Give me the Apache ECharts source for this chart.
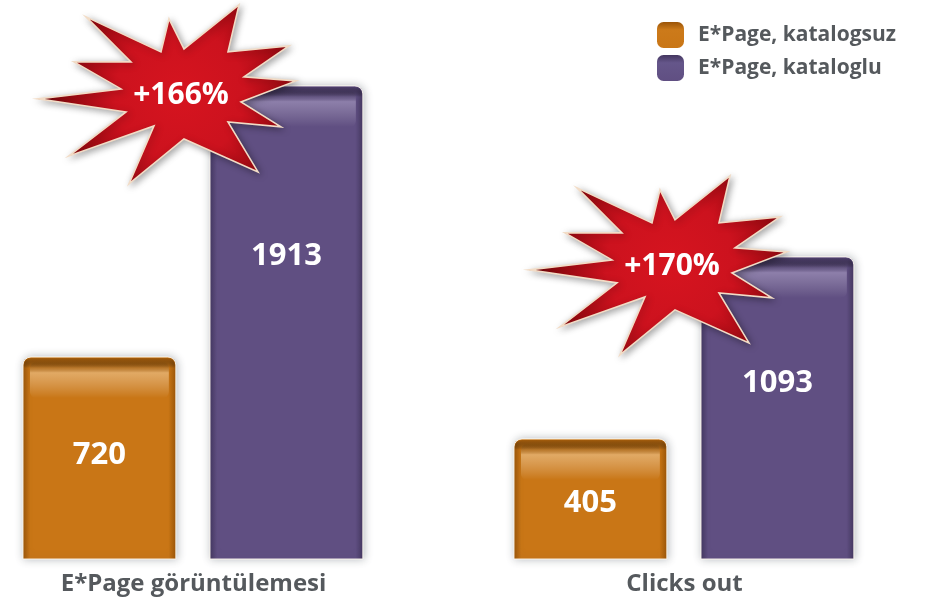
<!DOCTYPE html>
<html>
<head>
<meta charset="utf-8">
<title>E*Page katalog</title>
<script src="https://cdn.jsdelivr.net/npm/echarts@6/dist/echarts.min.js"></script>
<style>
  html, body { margin: 0; padding: 0; background: #ffffff; }
  #chart { width: 931px; height: 600px; }
</style>
</head>
<body>
<div id="chart"></div>
<script>
const categories = ['E*Page görüntülemesi', 'Clicks out'];
const seriesNames = ['E*Page, katalogsuz', 'E*Page, kataloglu'];
const withoutCatalog = [720, 405];
const withCatalog = [1913, 1093];

// each group has its own value scale in the original slide
const axisRanges = [
  { min: -169, max: 2291 },
  { min: -49, max: 2064 },
];

const FONT = '"Open Sans", "DejaVu Sans", sans-serif';
const TEXT_GRAY = '#55595d';

const palettes = [
  { base: '#c97616', edge: '#9a5407', rim: '#a65e0c', shine: 'rgba(255,232,196,0.45)', legend: '#cc7a1a' },
  { base: '#604f82', edge: '#43365f', rim: '#4e3f6d', shine: 'rgba(236,228,255,0.32)', legend: '#65568a' },
];

// starburst outline around its centre, tip / valley alternating
const starShape = [
  [58, -90], [47, -43], [108, -49], [63, -18], [115, -14], [60, 7],
  [100, 32], [47, 27], [77, 77], [3, 44], [-52, 89], [-27, 31],
  [-112, 61], [-55, 17], [-143, 4], [-60, -6], [-107, -33], [-50, -33],
  [-95, -78], [-20, -43], [-12, -76], [3, -46],
];

function makeBarRenderer(groupIndex, seriesIndex) {
  const pal = palettes[seriesIndex];
  return function (params, api) {
    const value = api.value(1);
    const top = api.coord([0, value]);
    const base = api.coord([0, axisRanges[groupIndex].min]);
    const band = api.size([1, 0])[0];
    const width = band * 0.395;
    const left = top[0] + band * (seriesIndex === 0 ? -0.4406 : 0.0426);
    const height = base[1] - top[1];
    const children = [];

    children.push({
      type: 'rect',
      shape: { x: left, y: top[1], width: width, height: height, r: [8, 8, 0, 0] },
      style: {
        fill: new echarts.graphic.LinearGradient(0, 0, 1, 0, [
          { offset: 0, color: pal.edge },
          { offset: 0.05, color: pal.base },
          { offset: 0.95, color: pal.base },
          { offset: 1, color: pal.edge },
        ]),
        stroke: 'rgba(255,250,240,0.9)',
        lineWidth: 1,
        shadowBlur: 8,
        shadowColor: 'rgba(60,70,80,0.35)',
        shadowOffsetX: 1,
        shadowOffsetY: 0,
      },
    });
    children.push({
      type: 'rect',
      shape: { x: left + 1, y: top[1] + 1, width: width - 2, height: 10, r: [7, 7, 0, 0] },
      style: {
        fill: new echarts.graphic.LinearGradient(0, 0, 0, 1, [
          { offset: 0, color: pal.rim },
          { offset: 1, color: 'rgba(0,0,0,0)' },
        ]),
      },
    });
    children.push({
      type: 'rect',
      shape: { x: left + 7, y: top[1] + 5, width: width - 14, height: 36, r: 6 },
      style: {
        fill: new echarts.graphic.LinearGradient(0, 0, 0, 1, [
          { offset: 0, color: 'rgba(0,0,0,0)' },
          { offset: 0.3, color: pal.shine },
          { offset: 1, color: 'rgba(255,255,255,0)' },
        ]),
      },
    });

    const labelY = seriesIndex === 0
      ? top[1] + 14 + height * 0.415
      : top[1] + 49 + height * 0.257;
    children.push({
      type: 'text',
      style: {
        text: String(value),
        x: left + width / 2,
        y: labelY,
        align: 'center',
        verticalAlign: 'middle',
        fill: '#ffffff',
        font: 'bold 31px ' + FONT,
      },
    });

    if (seriesIndex === 1) {
      const cx = left - 29;
      const cy = top[1] + 9;
      const growth = Math.round((value / withoutCatalog[groupIndex] - 1) * 100);
      children.push({
        type: 'polygon',
        shape: { points: starShape.map((p) => [cx + p[0], cy + p[1]]) },
        style: {
          fill: new echarts.graphic.RadialGradient(0.55, 0.5, 0.8, [
            { offset: 0, color: '#d6141f' },
            { offset: 0.45, color: '#cc121e' },
            { offset: 0.75, color: '#a00a12' },
            { offset: 1, color: '#700408' },
          ]),
          stroke: '#f2dcc6',
          lineWidth: 1.6,
          lineJoin: 'miter',
          shadowBlur: 7,
          shadowColor: 'rgba(0,0,0,0.35)',
          shadowOffsetX: 2,
          shadowOffsetY: 2,
        },
      });
      children.push({
        type: 'text',
        style: {
          text: '+' + growth + '%',
          x: cx,
          y: cy + 1,
          align: 'center',
          verticalAlign: 'middle',
          fill: '#ffffff',
          font: 'bold 30px ' + FONT,
        },
      });
    }

    return { type: 'group', children: children };
  };
}

const groupValues = [withoutCatalog, withCatalog];
const grids = [];
const xAxes = [];
const yAxes = [];
const series = [];

categories.forEach((category, g) => {
  grids.push({ left: g === 0 ? 0 : 491, width: 387, top: 0, bottom: 41 });
  xAxes.push({
    type: 'category',
    gridIndex: g,
    data: [category],
    axisLine: { show: false },
    axisTick: { show: false },
    axisLabel: {
      margin: 13,
      color: TEXT_GRAY,
      fontSize: 24,
      fontWeight: 'bold',
      fontFamily: FONT,
    },
  });
  yAxes.push({
    type: 'value',
    gridIndex: g,
    min: axisRanges[g].min,
    max: axisRanges[g].max,
    show: false,
    splitLine: { show: false },
  });
  seriesNames.forEach((name, s) => {
    series.push({
      type: 'custom',
      name: name,
      xAxisIndex: g,
      yAxisIndex: g,
      itemStyle: { color: palettes[s].legend },
      renderItem: makeBarRenderer(g, s),
      data: [[0, groupValues[s][g]]],
    });
  });
});

const chart = echarts.init(document.getElementById('chart'), null, { renderer: 'canvas' });
chart.setOption({
  backgroundColor: '#ffffff',
  animation: false,
  legend: {
    orient: 'vertical',
    left: 652,
    top: 17,
    itemWidth: 27,
    itemHeight: 26,
    itemGap: 7,
    data: seriesNames.map((name, s) => ({
      name: name,
      icon: 'roundRect',
      itemStyle: {
        color: new echarts.graphic.LinearGradient(0, 0, 0, 1, [
          { offset: 0, color: palettes[s].edge },
          { offset: 0.3, color: palettes[s].legend },
          { offset: 1, color: palettes[s].base },
        ]),
      },
    })),
    textStyle: {
      color: TEXT_GRAY,
      fontSize: 21,
      fontWeight: 'bold',
      fontFamily: FONT,
      padding: [0, 0, 0, 9],
    },
  },
  grid: grids,
  xAxis: xAxes,
  yAxis: yAxes,
  series: series,
});
</script>
</body>
</html>
